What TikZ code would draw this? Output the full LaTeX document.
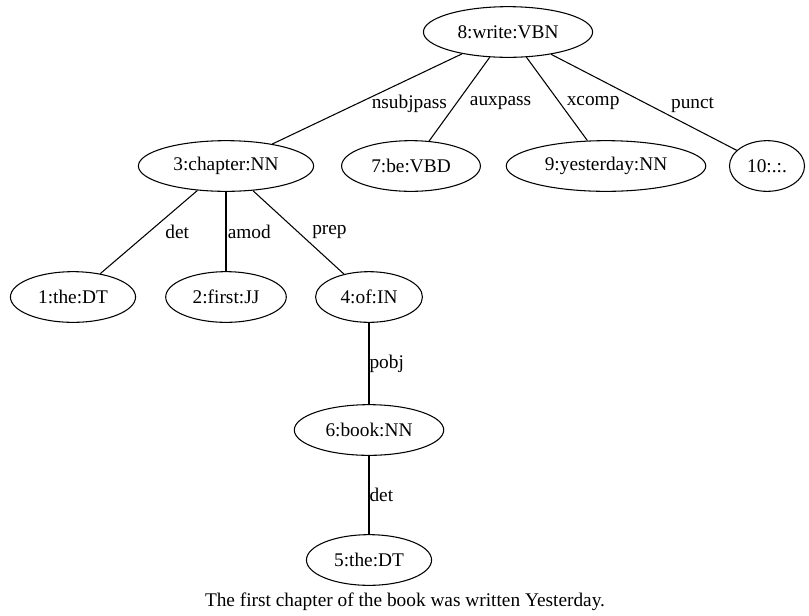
\documentclass[tikz,border=0pt]{standalone}
\usepackage{fontspec}
\setmainfont{Liberation Serif}
\usetikzlibrary{shapes.geometric}
\tikzset{
  tok/.style={draw,ellipse,line width=0.8pt,inner xsep=7pt,minimum height=38pt,
    font=\fontsize{14.5}{16}\selectfont},
  rel/.style={anchor=west,inner sep=0pt,font=\fontsize{14.5}{16}\selectfont},
  dep/.style={line width=0.8pt},
}
\begin{document}
\begin{tikzpicture}[x=0.75pt,y=-0.75pt]
\useasboundingbox (0,0) rectangle (809,615);
% tokens, one row per tree level
\node[tok] (write) at (508,32) {8:write:VBN};
\node[tok] (chapter) at (226,166) {3:chapter:NN};
\node[tok] (be) at (411,166) {7:be:VBD};
\node[tok] (yesterday) at (606,166) {9:yesterday:NN};
\node[tok,inner xsep=5pt] (punct) at (767,166) {10:.:.};
\node[tok] (the1) at (73,297) {1:the:DT};
\node[tok] (first) at (226,297) {2:first:JJ};
\node[tok] (of) at (369,297) {4:of:IN};
\node[tok] (book) at (369,430) {6:book:NN};
\node[tok] (the5) at (369,560) {5:the:DT};
\node[font=\fontsize{14.5}{16}\selectfont] (sent) at (405,602) {The first chapter of the book was written Yesterday.};
% dependencies
\draw[dep] (write)--node[rel,xshift=3pt,yshift=-4pt]{nsubjpass}(chapter);
\draw[dep] (write)--node[rel,xshift=7.5pt,yshift=-3pt]{auxpass}(be);
\draw[dep] (write)--node[rel,xshift=7pt,yshift=-3pt]{xcomp}(yesterday);
\draw[dep] (write)--node[rel,xshift=20pt,yshift=-2pt]{punct}(punct);
\draw[dep] (chapter)--node[rel,xshift=12pt]{det}(the1);
\draw[dep] (chapter)--node[rel,xshift=1pt]{amod}(first);
\draw[dep] (chapter)--node[rel,xshift=10pt]{prep}(of);
\draw[dep] (of)--node[rel]{pobj}(book);
\draw[dep] (book)--node[rel]{det}(the5);
\end{tikzpicture}
\end{document}
